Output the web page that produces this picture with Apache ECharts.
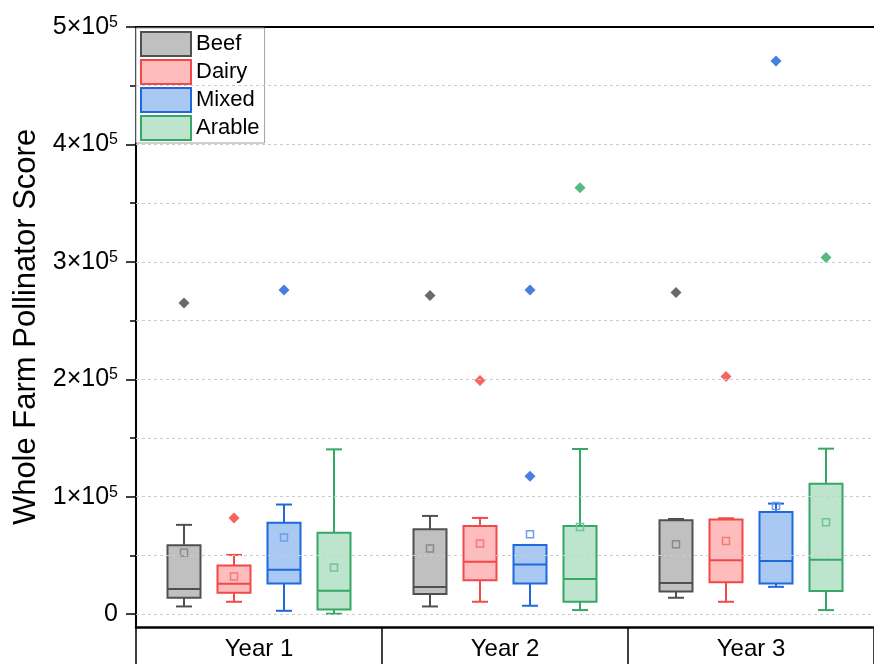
<!DOCTYPE html>
<html>
<head>
<meta charset="utf-8">
<script src="https://cdn.jsdelivr.net/npm/echarts@6/dist/echarts.min.js"></script>
<style>
  html, body { margin: 0; padding: 0; background: #fff; }
  #chart { width: 874px; height: 664px; }
</style>
</head>
<body>
<div id="chart"></div>
<script>
const years = ["Year 1", "Year 2", "Year 3"];
const farmTypes = ["Beef", "Dairy", "Mixed", "Arable"];

// per year: [lower whisker, Q1, median, Q3, upper whisker]
const beefBox = [[6500, 13900, 21300, 58700, 76000], [6500, 17000, 23000, 72300, 83600], [13900, 19300, 26400, 79900, 81000]];
const dairyBox = [[10500, 18100, 25800, 41400, 50400], [10500, 28900, 44500, 75100, 81900], [10500, 27200, 45900, 80500, 81600]];
const mixedBox = [[2800, 26100, 37700, 77700, 93300], [7100, 26100, 42200, 58900, 58900], [23200, 26100, 45300, 87000, 94100]];
const arableBox = [[300, 4000, 19800, 69200, 140300], [3400, 10500, 29800, 75100, 140600], [3400, 19600, 46200, 111100, 140900]];

const beefMean = [52400, 55900, 59500];
const dairyMean = [32000, 60100, 62300];
const mixedMean = [65200, 68000, 92000];
const arableMean = [39700, 74200, 78200];

// [year index, value]
const beefOutliers = [[0, 265000], [1, 271300], [2, 273800]];
const dairyOutliers = [[0, 81900], [1, 199000], [2, 202400]];
const mixedOutliers = [[0, 276000], [1, 117300], [1, 276000], [2, 471000]];
const arableOutliers = [[1, 363000], [2, 303600]];

const yMajorTicks = [0, 100000, 200000, 300000, 400000, 500000];
const yMinorTicks = [50000, 150000, 250000, 350000, 450000];
const gridLines = [0, 50000, 100000, 150000, 200000, 250000, 300000, 350000, 400000, 450000];

const FONT = "Liberation Sans";
const strokes = ["#505050", "#f24848", "#1f68de", "#35a865"];
const fills = ["#c0c0c0", "#ffbcbc", "#a9c8f2", "#bde4cc"];
const meanColors = ["#8a8a8a", "#f27a7a", "#6f9ee9", "#72c495"];
const dotColors = ["#454545", "#f23c3c", "#1560d8", "#2ea860"];

const boxes = [beefBox, dairyBox, mixedBox, arableBox];
const means = [beefMean, dairyMean, mixedMean, arableMean];
const outliers = [beefOutliers, dairyOutliers, mixedOutliers, arableOutliers];

function boxRender(k) {
  return function (params, api) {
    const i = api.value(0);
    const x = api.coord([i, 0])[0] + (k - 1.5) * 50;
    const y = (d) => api.coord([i, api.value(d)])[1];
    const lo = y(1), q1 = y(2), med = y(3), q3 = y(4), hi = y(5), mean = y(6);
    const w = 33, cap = 8;
    const ls = { stroke: strokes[k], lineWidth: 2 };
    return {
      type: "group",
      children: [
        { type: "line", shape: { x1: x, y1: hi, x2: x, y2: q3 }, style: ls },
        { type: "line", shape: { x1: x, y1: q1, x2: x, y2: lo }, style: ls },
        { type: "line", shape: { x1: x - cap, y1: hi, x2: x + cap, y2: hi }, style: ls },
        { type: "line", shape: { x1: x - cap, y1: lo, x2: x + cap, y2: lo }, style: ls },
        { type: "rect", shape: { x: x - w / 2, y: q3, width: w, height: q1 - q3 },
          style: { fill: fills[k], stroke: strokes[k], lineWidth: 2 } },
        { type: "line", shape: { x1: x - w / 2, y1: med, x2: x + w / 2, y2: med }, style: ls },
        { type: "rect", shape: { x: x - 3.5, y: mean - 3.5, width: 7, height: 7 },
          style: { fill: "none", stroke: meanColors[k], lineWidth: 1.5 } }
      ]
    };
  };
}

const series = [
  {
    type: "line",
    name: "grid",
    data: [],
    z: 1,
    markLine: {
      silent: true,
      symbol: ["none", "none"],
      label: { show: false },
      animation: false,
      lineStyle: { color: "#cccccc", type: [3, 3], width: 1 },
      data: gridLines.map((v) => ({ yAxis: v }))
    }
  }
];

farmTypes.forEach((name, k) => {
  series.push({
    type: "custom",
    name: name,
    z: 3,
    itemStyle: { color: fills[k], borderColor: strokes[k] },
    renderItem: boxRender(k),
    data: boxes[k].map((b, i) => [i].concat(b, [means[k][i]]))
  });
  series.push({
    type: "scatter",
    name: name + " outliers",
    z: 4,
    symbol: "diamond",
    symbolSize: 11,
    symbolOffset: [(k - 1.5) * 50, 0],
    itemStyle: { color: dotColors[k] },
    data: outliers[k]
  });
});

const supLabel = (v) => (v === 0 ? "{b|0}" : "{b|" + v / 100000 + "×10}{s|5}");

const option = {
  animation: false,
  textStyle: { fontFamily: FONT },
  grid: { left: 136, right: 0, top: 27, bottom: 37 },
  legend: {
    orient: "vertical",
    left: 136,
    top: 28,
    itemWidth: 50,
    itemHeight: 24,
    itemGap: 2,
    padding: [3, 5, 2, 4],
    backgroundColor: "#fff",
    borderColor: "#a0a0a0",
    borderWidth: 1,
    textStyle: { fontSize: 22, lineHeight: 24, color: "#000", fontFamily: FONT },
    data: farmTypes.map((name, k) => ({
      name: name,
      icon: "rect",
      itemStyle: { color: fills[k], borderColor: strokes[k], borderWidth: 2 }
    }))
  },
  xAxis: [
    {
      type: "category",
      data: years,
      position: "bottom",
      boundaryGap: true,
      axisLine: { onZero: false, lineStyle: { color: "#000", width: 2.5 } },
      axisTick: { show: true, interval: 0, length: 40, lineStyle: { color: "#000", width: 1.5 } },
      axisLabel: { fontSize: 24, color: "#000", margin: 10, fontFamily: FONT },
      splitLine: { show: false }
    },
    {
      type: "category",
      data: years,
      position: "top",
      axisLine: { onZero: false, lineStyle: { color: "#000", width: 2 } },
      axisTick: { show: false },
      axisLabel: { show: false }
    }
  ],
  yAxis: [
    {
      type: "value",
      min: -11000,
      max: 500000,
      name: "Whole Farm Pollinator Score",
      nameLocation: "middle",
      nameGap: 92,
      nameTextStyle: { fontSize: 31, color: "#000", fontFamily: FONT },
      axisLine: { show: true, onZero: false, lineStyle: { color: "#000", width: 2 } },
      axisTick: { show: true, length: 10, customValues: yMajorTicks, lineStyle: { color: "#000", width: 1.5 } },
      axisLabel: {
        customValues: yMajorTicks,
        margin: 18,
        formatter: supLabel,
        rich: {
          b: { fontSize: 25, color: "#000", fontFamily: FONT },
          s: { fontSize: 16, color: "#000", fontFamily: FONT, verticalAlign: "top" }
        }
      },
      splitLine: { show: false }
    },
    {
      type: "value",
      min: -11000,
      max: 500000,
      position: "left",
      axisLine: { show: false },
      axisTick: { show: true, length: 6, customValues: yMinorTicks, lineStyle: { color: "#000", width: 1.5 } },
      axisLabel: { show: false },
      splitLine: { show: false }
    }
  ],
  series: series
};

const chart = echarts.init(document.getElementById("chart"));
chart.setOption(option);
</script>
</body>
</html>
